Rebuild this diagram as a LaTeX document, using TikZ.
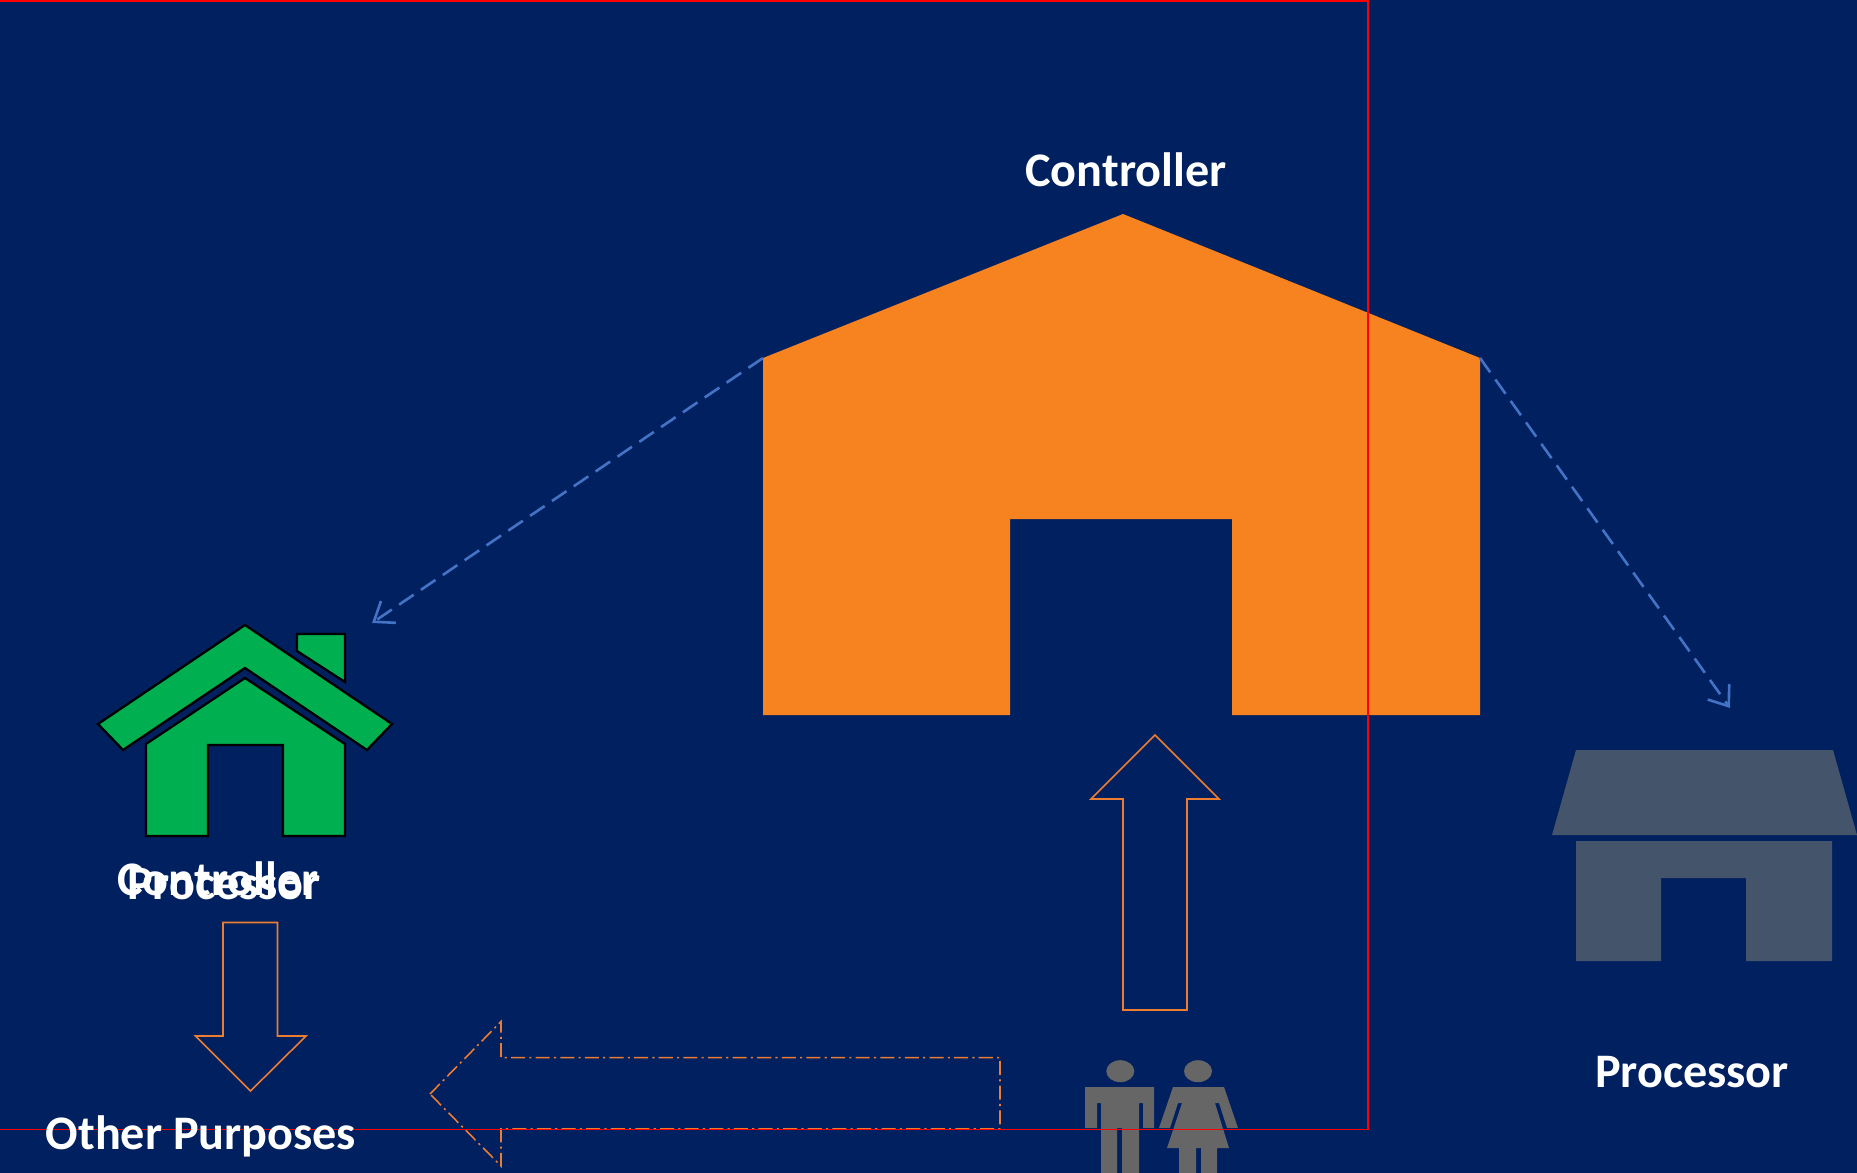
\documentclass[tikz,border=0pt]{standalone}
\usepackage{fontspec}
\setmainfont{Carlito}
\usetikzlibrary{arrows.meta}
\definecolor{fondbleu}{HTML}{002060}
\definecolor{orangebat}{HTML}{F6831F}
\definecolor{vertmaison}{HTML}{00B050}
\definecolor{grisbat}{HTML}{44546A}
\definecolor{grisperso}{HTML}{666666}
\definecolor{traitorange}{HTML}{ED7D31}
\definecolor{traitbleu}{HTML}{4472C4}
\tikzset{
  libelle/.style={text=white,font=\fontsize{13.7}{16}\selectfont\bfseries,inner sep=0pt},
  maison/.style={fill=vertmaison,draw=black,line width=0.65pt,line join=miter},
  fleche/.style={draw=traitorange,line width=0.45pt},
  lien/.style={draw=traitbleu,line width=0.75pt,dash pattern=on 5pt off 2.5pt,-{Straight Barb[length=5pt,width=7.5pt]}}
}
\begin{document}
\begin{tikzpicture}[x=0.01cm,y=-0.01cm]

% Fond
\fill[fondbleu]
(0,0)
rectangle
(1857,1173);
\useasboundingbox
(0,0)
rectangle
(1857,1173);

% Grand batiment
\fill[orangebat]
(763,358)
--
(1123,214)
--
(1480,358)
--
(1480,715)
--
(1232,715)
--
(1232,519)
--
(1010,519)
--
(1010,715)
--
(763,715)
--
cycle;

\coordinate (bat gauche) at (763,358);
\coordinate (bat droite) at (1480,358);
\coordinate (vers maison) at (372,623);
\coordinate (vers gris) at (1730,708);

% Maison verte
\draw[maison]
(245,625)
--
(392,724)
--
(367,750)
--
(245,668)
--
(123,750)
--
(98,724)
--
cycle;

\draw[maison]
(245,678)
--
(345,744)
--
(345,836)
--
(283,836)
--
(283,745)
--
(208,745)
--
(208,836)
--
(146,836)
--
(146,744)
--
cycle;

\draw[maison]
(297,634)
--
(345,634)
--
(345,682)
--
(297,651)
--
cycle;

% Batiment gris
\fill[grisbat]
(1576,750)
--
(1833,750)
--
(1857,835)
--
(1552,835)
--
cycle;

\fill[grisbat]
(1576,841)
--
(1832,841)
--
(1832,961)
--
(1746,961)
--
(1746,878)
--
(1661,878)
--
(1661,961)
--
(1576,961)
--
cycle;

% Homme
\fill[grisperso]
(1120.3,1071.2)
ellipse
[x radius=14,y radius=11];

\fill[grisperso]
(1085,1087) -- (1154,1087) -- (1154,1128) -- (1143,1128)
-- (1143,1103) -- (1139,1103) -- (1139,1173) -- (1122,1173)
-- (1122,1128) -- (1117,1128) -- (1117,1173) -- (1101,1173)
-- (1101,1103) -- (1097,1103) -- (1097,1128) -- (1085,1128)
-- cycle;

% Femme
\fill[grisperso]
(1198,1071.2)
ellipse
[x radius=14,y radius=11];

\fill[grisperso]
(1173,1087) -- (1224,1087) -- (1238,1128) -- (1227,1128)
-- (1219,1103) -- (1215,1103) -- (1229,1148) -- (1217,1148)
-- (1217,1173) -- (1201,1173) -- (1201,1148) -- (1196,1148)
-- (1196,1173) -- (1179,1173) -- (1179,1148) -- (1167,1148)
-- (1182,1103) -- (1178,1103) -- (1170,1128) -- (1159,1128)
-- cycle;

% Fleche montante
\draw[fleche]
(1155,735)
--
(1219,799)
--
(1187,799)
--
(1187,1010)
--
(1123,1010)
--
(1123,799)
--
(1091,799)
--
cycle;

% Fleche descendante
\draw[fleche]
(223,922.5)
--
(277.5,922.5)
--
(277.5,1036)
--
(306,1036)
--
(250.5,1091)
--
(195.5,1036)
--
(223,1036)
--
cycle;

% Fleche gauche
\draw[fleche,dash pattern=on 4pt off 1.2pt on 0.6pt off 1.2pt]
(430,1094)
--
(501,1021.5)
--
(501,1057.7)
--
(1000,1057.7)
--
(1000,1129)
--
(501,1129)
--
(501,1166)
--
cycle;

% Liens
\draw[lien]
(bat gauche)
--
(vers maison);

\draw[lien]
(bat droite)
--
(vers gris);

% Cadre
\draw[red,line width=0.5pt]
(-0.5,1)
rectangle
(1368,1129.5);

% Textes
\node[libelle] (titre controleur) at (1126,170) {Controller};
\node[libelle] (titre sous controleur) at (218,879) {Controller};
\node[libelle] (titre sous traitant) at (224,884) {Processor};
\node[libelle] (titre traitant) at (1692,1072) {Processor};
\node[libelle] (titre autres) at (201,1136) {Other Purposes};

\end{tikzpicture}
\end{document}
